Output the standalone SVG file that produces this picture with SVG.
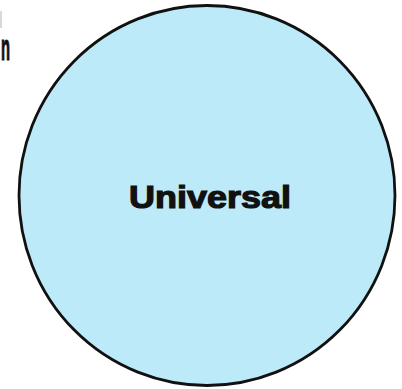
<svg xmlns="http://www.w3.org/2000/svg" width="402" height="389" viewBox="0 0 402 389">
<style>
.lbl{font-family:"Liberation Sans",Arial,sans-serif;font-weight:bold;fill:#111;stroke:#111;stroke-width:1.2}
</style>
<rect width="402" height="389" fill="#ffffff"/>
<g id="fragment">
<rect x="0" y="11" width="2" height="17" fill="#d8d8d8"/>
<text class="lbl" x="1" y="60" font-size="36" stroke-width="1.6" textLength="9" lengthAdjust="spacingAndGlyphs">n</text>
</g>
<g id="universal">
<ellipse cx="207" cy="195.5" rx="188" ry="190" fill="#bdeaf8" stroke="#111" stroke-width="2.8"/>
<text class="lbl" x="210" y="208" font-size="32" text-anchor="middle" textLength="162" lengthAdjust="spacingAndGlyphs">Universal</text>
</g>
<g id="connectors"/>
</svg>
